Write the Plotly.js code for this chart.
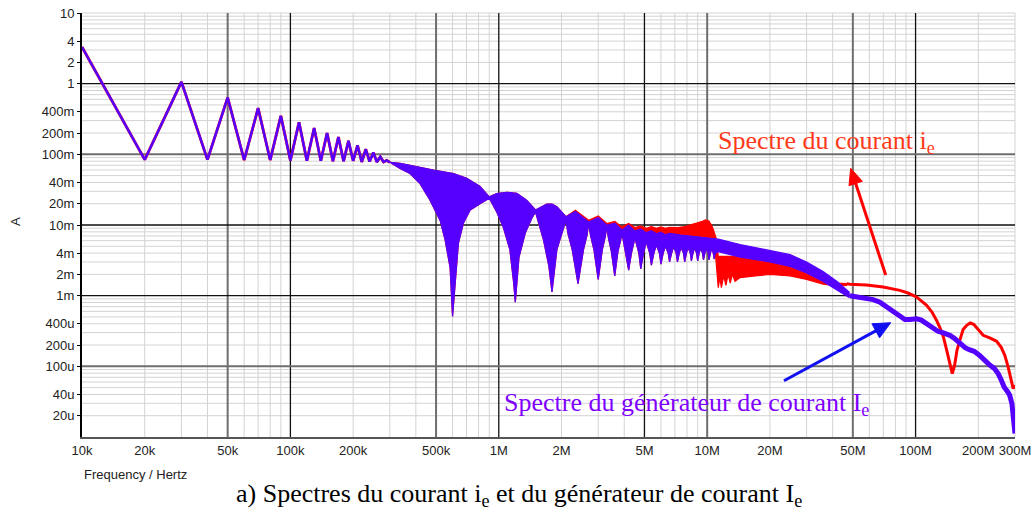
<!DOCTYPE html>
<html>
<head>
<meta charset="utf-8">
<script src="https://cdn.plot.ly/plotly-3.0.1.min.js"></script>
<style>html,body{margin:0;padding:0;background:#fff;}#chart{width:1031px;height:510px;}</style>
</head>
<body>
<div id="chart"></div>
<script>
// ---------- DATA ----------
// Low-frequency harmonic zig-zag (same for both spectra), Hz / A
const zzF = [10e3,20e3,30e3,40e3,50e3,60e3,70e3,80e3,90e3,100e3,110e3,120e3,130e3,140e3,150e3,160e3,170e3,180e3,190e3,200e3,210e3,220e3,230e3,240e3,250e3,260e3,270e3,280e3,290e3,300e3];
const zzV = [3.3,0.084,1.06,0.084,0.635,0.083,0.45,0.083,0.35,0.082,0.285,0.081,0.236,0.081,0.2,0.08,0.176,0.08,0.155,0.081,0.134,0.078,0.118,0.079,0.106,0.078,0.092,0.078,0.082,0.077];

// Dense-spectrum band: upper envelope shared by both spectra (300k - 2.1M)
const bandUpF = [300e3,336e3,375e3,419e3,486e3,606e3,702e3,813e3,900e3,978e3,1.09e6,1.22e6,1.36e6,1.5e6,1.7e6,1.8e6,1.9e6,2.1e6];
const bandUpV = [0.077,0.0745,0.070,0.065,0.060,0.0535,0.046,0.035,0.025,0.0278,0.029,0.028,0.0224,0.0163,0.0197,0.0197,0.0181,0.0131];

// Lower envelope shared by both spectra (300k - 10.95M)
const bandLoF = [300e3,336e3,375e3,419e3,468e3,523e3,553e3,584e3,600e3,640e3,677e3,729e3,813e3,900e3,978e3,1.05e6,1.13e6,1.18e6,1.2e6,1.25e6,1.34e6,1.44e6,1.5e6,1.64e6,1.74e6,1.8e6,1.9e6,2.1e6,2.15e6,2.25e6,2.4e6,2.55e6,2.65e6,2.7e6,2.76e6,2.86e6,3.0e6,3.14e6,3.24e6,3.3e6,3.36e6,3.47e6,3.6e6,3.73e6,3.84e6,3.9e6,3.96e6,4.07e6,4.2e6,4.33e6,4.44e6,4.5e6,4.7e6,4.8e6,4.95e6,5.1e6,5.3e6,5.4e6,5.55e6,5.7e6,5.9e6,6.0e6,6.15e6,6.3e6,6.5e6,6.6e6,6.75e6,6.9e6,7.1e6,7.2e6,7.35e6,7.5e6,7.7e6,7.8e6,7.95e6,8.1e6,8.3e6,8.4e6,8.55e6,8.7e6,8.9e6,9.0e6,9.15e6,9.3e6,9.5e6,9.6e6,9.75e6,9.9e6,10.1e6,10.2e6,10.35e6,10.5e6,10.7e6,10.8e6,10.95e6];
const bandLoV = [0.077,0.063,0.0535,0.0385,0.0224,0.0116,0.0061,0.0025,0.00051,0.0055,0.0107,0.0163,0.020,0.024,0.0153,0.0094,0.0045,0.00148,0.00081,0.0035,0.0077,0.0125,0.0153,0.0061,0.0026,0.00113,0.0045,0.0116,0.0075,0.0045,0.00148,0.0045,0.0072,0.0104,0.007,0.0045,0.0017,0.0045,0.0068,0.0094,0.0065,0.0042,0.0019,0.0042,0.006,0.0077,0.0058,0.004,0.0023,0.004,0.0055,0.0065,0.004,0.0024,0.004,0.0058,0.004,0.0027,0.004,0.0052,0.004,0.0028,0.004,0.005,0.004,0.003,0.004,0.0049,0.004,0.003,0.004,0.0048,0.004,0.003,0.004,0.0048,0.004,0.0031,0.004,0.0047,0.004,0.0031,0.004,0.0047,0.004,0.0032,0.004,0.0047,0.004,0.0032,0.004,0.0047,0.004,0.0033,0.004];

// Generator spectrum I_e (purple): band tails
const genUpF = [2.33e6,2.7e6,3.0e6,3.3e6,3.6e6,3.9e6,4.2e6,4.5e6,4.8e6,5.1e6,5.4e6,5.7e6,6.0e6,6.3e6,6.6e6,7.5e6,8.5e6,9.5e6,10.5e6,11.3e6,14.4e6,20e6,25e6,30e6,36e6,42e6,48e6];
const genUpV = [0.0156,0.011,0.0128,0.0099,0.0106,0.0085,0.0100,0.0082,0.0088,0.0078,0.0083,0.0075,0.0079,0.0073,0.0076,0.0072,0.0069,0.0066,0.0065,0.0063,0.0053,0.0044,0.0038,0.0030,0.0022,0.00159,0.00113];
const genLoF = [11.3e6,14.4e6,20e6,25e6,30e6,36e6,42e6,48e6];
const genLoV = [0.0042,0.0035,0.003,0.0026,0.0021,0.00159,0.0012,0.00094];
// Generator spectrum, high-frequency part
const genHfF = [48.4e6,56.3e6,62.6e6,67.4e6,72.6e6,78.1e6,84.1e6,88.9e6,94e6,101e6,106.6e6,113e6,121e6,128e6,136e6,146e6,154e6,164e6,173e6,181e6,191e6,203e6,214e6,227e6,239e6,249e6,258e6,266e6,277e6,283e6,290e6,294e6,300e6];
const genHfV = [0.00100,0.00093,0.00088,0.00081,0.00069,0.00059,0.00050,0.00046,0.00046,0.00047,0.00045,0.000403,0.000342,0.000313,0.000297,0.000275,0.000247,0.00021,0.000184,0.000172,0.000163,0.000143,0.000122,0.000104,0.000093,0.000079,0.0000635,0.000051,0.0000434,0.0000389,0.0000297,0.0000192,0.0000112];

// Current spectrum i_e (red): band tails
const curUpF = [2.33e6,2.7e6,3.0e6,3.3e6,3.6e6,3.9e6,4.2e6,4.5e6,4.8e6,5.1e6,5.4e6,5.7e6,6.0e6,6.3e6,6.6e6,7.2e6,7.8e6,8.4e6,9.0e6,9.5e6,9.8e6,10.2e6,10.6e6,11.1e6,11.3e6,14.4e6,20e6,25e6,30e6,36e6,42e6,46.7e6];
const curUpV = [0.0162,0.0117,0.0134,0.0105,0.0112,0.0094,0.0105,0.0092,0.0097,0.009,0.0095,0.009,0.0094,0.009,0.0093,0.0092,0.0095,0.0101,0.0107,0.0113,0.0118,0.0114,0.0094,0.0062,0.0036,0.0036,0.0031,0.0027,0.0022,0.0017,0.0015,0.00148];
const curLoF = [11.3e6,11.5e6,11.7e6,12.0e6,12.3e6,12.6e6,12.9e6,13.2e6,13.6e6,14.4e6,17e6,20e6,25e6,30e6,36e6,42e6,46.7e6];
const curLoV = [0.0013,0.0018,0.0013,0.0019,0.0014,0.002,0.0015,0.002,0.0016,0.0018,0.0019,0.002,0.0019,0.0017,0.00146,0.00137,0.0014];
// Current spectrum, high-frequency part
const curHfF = [46.7e6,48.4e6,58.2e6,69.9e6,84.1e6,92e6,101e6,106.6e6,113e6,119.6e6,126e6,131e6,136e6,141e6,146e6,150e6,154e6,158e6,164e6,169e6,176e6,183e6,190e6,201e6,211e6,227e6,245e6,258e6,268e6,278e6,288e6,294e6,300e6];
const curHfV = [0.00148,0.00145,0.00142,0.00133,0.00119,0.00109,0.00096,0.00084,0.00073,0.00059,0.00045,0.00035,0.00026,0.000169,0.000104,0.0000789,0.000104,0.000169,0.000247,0.000331,0.000381,0.00041,0.000394,0.000324,0.000275,0.000252,0.000226,0.000184,0.000143,0.000098,0.00006,0.0000485,0.000054];

// Axis ticks
const xTickVals = [1e4,2e4,5e4,1e5,2e5,5e5,1e6,2e6,5e6,1e7,2e7,5e7,1e8,2e8,3e8];
const xTickText = ['10k','20k','50k','100k','200k','500k','1M','2M','5M','10M','20M','50M','100M','200M','300M'];
const yTickVals = [10,4,2,1,0.4,0.2,0.1,0.04,0.02,0.01,0.004,0.002,0.001,4e-4,2e-4,1e-4,4e-5,2e-5];
const yTickText = ['10','4','2','1','400m','200m','100m','40m','20m','10m','4m','2m','1m','400u','200u','100u','40u','20u'];

// ---------- STYLE ----------
const PURPLE = '#5500ff', RED = '#ff0000';
const X0 = 4, X1 = Math.log10(3e8), Y0 = -5, Y1 = 1;
const PL = 82, PR = 1015, PT = 13, PB = 437;
const px2paperX = X => (X - PL) / (PR - PL);
const px2paperY = Y => (PB - Y) / (PB - PT);
const fx = f => (Math.log10(f) - X0) / (X1 - X0);
const fy = v => (Math.log10(v) - Y0) / (Y1 - Y0);

function poly(uf, uv, lf, lv) {
  return { x: uf.concat(lf.slice().reverse()), y: uv.concat(lv.slice().reverse()) };
}
const redPoly = poly(bandUpF.concat(curUpF), bandUpV.concat(curUpV), bandLoF.concat(curLoF), bandLoV.concat(curLoV));
const purPoly = poly(bandUpF.concat(genUpF), bandUpV.concat(genUpV), bandLoF.concat(genLoF), bandLoV.concat(genLoV));

const traces = [
  {x: zzF, y: zzV, mode: 'lines', line: {color: RED, width: 2.8}, hoverinfo: 'skip'},
  {x: redPoly.x, y: redPoly.y, mode: 'lines', fill: 'toself', fillcolor: RED, line: {color: RED, width: 1.2}, hoverinfo: 'skip'},
  {x: curHfF, y: curHfV, mode: 'lines', line: {color: RED, width: 3}, hoverinfo: 'skip'},
  {x: zzF, y: zzV, mode: 'lines', line: {color: PURPLE, width: 2.5}, hoverinfo: 'skip'},
  {x: purPoly.x, y: purPoly.y, mode: 'lines', fill: 'toself', fillcolor: PURPLE, line: {color: PURPLE, width: 1.2}, hoverinfo: 'skip'},
  {x: genHfF, y: genHfV, mode: 'lines', line: {color: PURPLE, width: 5}, hoverinfo: 'skip'}
];

// grid lines (drawn as shapes so the darker ones stay on top of the light ones)
const xMinor = [], yMinor = [10];
[1e4,1e5,1e6,1e7].forEach(d => [2,3,4,6,7,8,9].forEach(k => xMinor.push(d*k)));
xMinor.push(2e8, 3e8);
[1e-5,1e-4,1e-3,1e-2,1e-1,1].forEach(d => [2,3,4,5,6,7,8,9].forEach(k => yMinor.push(d*k)));

const shapes = [];
const LIGHT = '#d3d3d3';
xMinor.forEach(f => shapes.push({type:'line', xref:'paper', yref:'paper', x0:fx(f), x1:fx(f), y0:0, y1:1, line:{color:LIGHT, width:1}, layer:'below'}));
yMinor.forEach(v => shapes.push({type:'line', xref:'paper', yref:'paper', x0:0, x1:1, y0:fy(v), y1:fy(v), line:{color:LIGHT, width:1}, layer:'below'}));
const vDark = [[5e4,'#6e6e6e',2],[1e5,'#111',1.3],[5e5,'#6e6e6e',2],[1e6,'#111',1.3],[5e6,'#111',1.3],[1e7,'#6e6e6e',2],[5e7,'#6e6e6e',2],[1e8,'#111',1.3]];
const hDark = [[1,'#111',1.3],[0.1,'#6e6e6e',2],[0.01,'#111',1.3],[0.001,'#111',1.3],[1e-4,'#6e6e6e',2]];
vDark.forEach(([f,c,w]) => shapes.push({type:'line', xref:'paper', yref:'paper', x0:fx(f), x1:fx(f), y0:0, y1:1, line:{color:c, width:w}, layer:'below'}));
hDark.forEach(([v,c,w]) => shapes.push({type:'line', xref:'paper', yref:'paper', x0:0, x1:1, y0:fy(v), y1:fy(v), line:{color:c, width:w}, layer:'below'}));

function arrow(tx, ty, hx, hy, color, len, half, w) {
  const dx = hx - tx, dy = hy - ty, L = Math.hypot(dx, dy);
  const ux = dx / L, uy = dy / L, nx = -uy, ny = ux;
  const bx = hx - len * ux, by = hy - len * uy;
  shapes.push({type:'line', xref:'paper', yref:'paper', x0:px2paperX(tx), y0:px2paperY(ty), x1:px2paperX(bx + ux), y1:px2paperY(by + uy), line:{color:color, width:w}, layer:'above'});
  const p = [[hx,hy],[bx + half*nx, by + half*ny],[bx - half*nx, by - half*ny]];
  shapes.push({type:'path', xref:'paper', yref:'paper', path: 'M' + p.map(q => px2paperX(q[0]) + ',' + px2paperY(q[1])).join(' L') + ' Z', fillcolor: color, line:{color:color, width:1}, layer:'above'});
}
arrow(885.7, 275, 850.7, 168.3, '#ff0000', 16, 7, 3);
arrow(784, 380.7, 890.7, 322.7, '#1010f0', 17, 8, 3);

const SERIF = 'Liberation Serif, Times New Roman, serif';
const SANS = 'Liberation Sans, Arial, sans-serif';
const annotations = [
  {xref:'paper', yref:'paper', x:px2paperX(716), y:px2paperY(142), xanchor:'left', yanchor:'middle', showarrow:false,
   text:'Spectre du courant i<sub>e</sub>', font:{family:SERIF, size:26, color:'#ff3a1a'}},
  {xref:'paper', yref:'paper', x:px2paperX(502), y:px2paperY(404), xanchor:'left', yanchor:'middle', showarrow:false,
   text:'Spectre du générateur de courant I<sub>e</sub>', font:{family:SERIF, size:26, color:'#7f00ff'}},
  {xref:'paper', yref:'paper', x:px2paperX(519), y:px2paperY(495), xanchor:'center', yanchor:'middle', showarrow:false,
   text:'a) Spectres du courant i<sub>e</sub> et du générateur de courant I<sub>e</sub>', font:{family:SERIF, size:26, color:'#000'}},
  {xref:'paper', yref:'paper', x:px2paperX(82), y:px2paperY(474), xanchor:'left', yanchor:'middle', showarrow:false,
   text:'Frequency / Hertz', font:{family:SANS, size:13, color:'#222'}},
  {xref:'paper', yref:'paper', x:px2paperX(15), y:px2paperY(222), xanchor:'center', yanchor:'middle', showarrow:false, textangle:-90,
   text:'A', font:{family:SANS, size:13, color:'#222'}}
];

const layout = {
  width: 1031, height: 510,
  margin: {l: PL, r: 1031 - PR, t: PT, b: 510 - PB, pad: 0},
  paper_bgcolor: '#ffffff', plot_bgcolor: 'rgba(0,0,0,0)',
  showlegend: false,
  xaxis: {type:'log', range:[X0, X1], tickmode:'array', tickvals:xTickVals, ticktext:xTickText,
    showgrid:false, zeroline:false, showline:true, linecolor:'#555', linewidth:2, ticks:'',
    tickfont:{family:SANS, size:13, color:'#222'}, ticklabeloverflow:'allow', fixedrange:true},
  yaxis: {type:'log', range:[Y0, Y1], tickmode:'array', tickvals:yTickVals, ticktext:yTickText,
    showgrid:false, zeroline:false, showline:true, linecolor:'#000', linewidth:2, ticks:'outside', ticklen:3, tickwidth:1, tickcolor:'#000',
    tickfont:{family:SANS, size:13, color:'#222'}, ticklabeloverflow:'allow', fixedrange:true},
  shapes: shapes,
  annotations: annotations
};

Plotly.newPlot('chart', traces, layout, {displayModeBar:false, staticPlot:true});
</script>
</body>
</html>
